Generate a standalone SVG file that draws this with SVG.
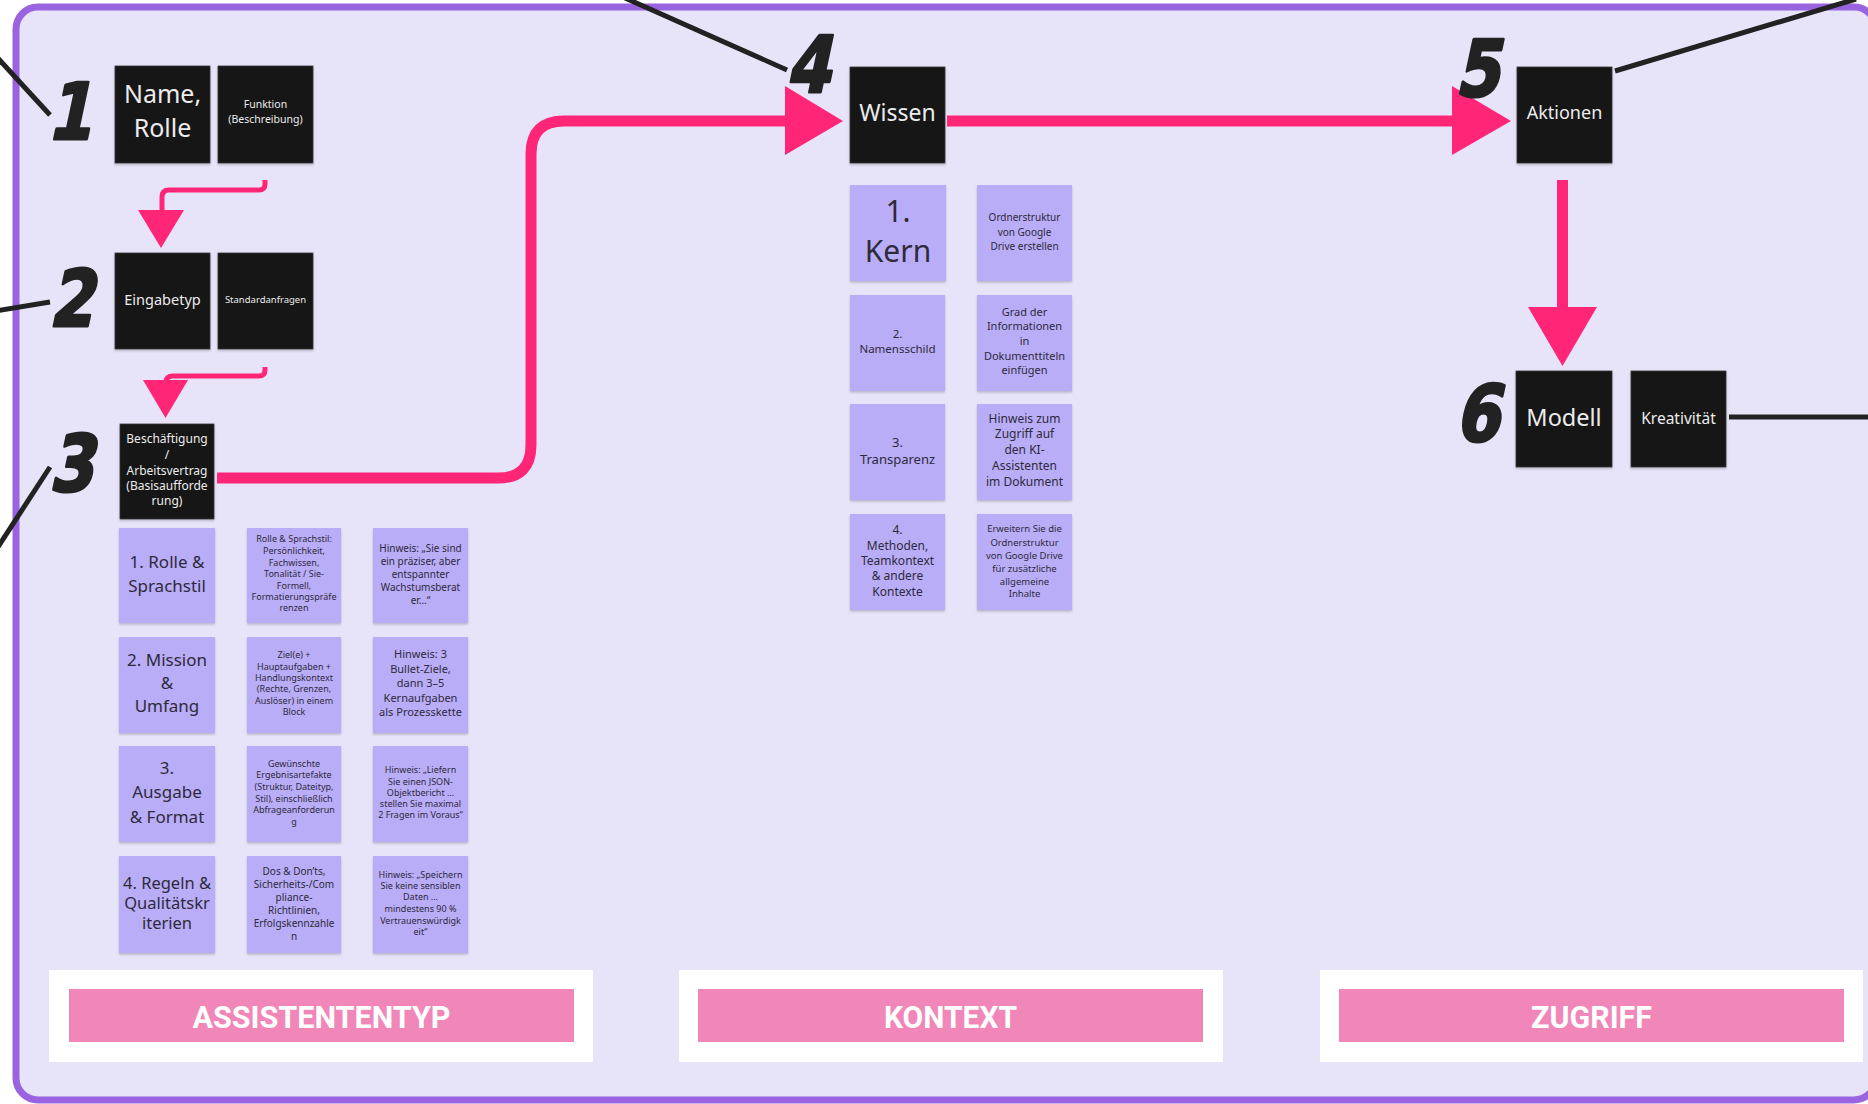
<svg xmlns="http://www.w3.org/2000/svg" width="1868" height="1104" viewBox="0 0 1868 1104">
<defs>
<filter id="sh" x="-10%" y="-10%" width="120%" height="125%">
<feDropShadow dx="0" dy="1.5" stdDeviation="1.2" flood-color="#000" flood-opacity="0.22"/>
</filter>
<style>
.blk{fill:#151515;stroke:#3a3a3a;stroke-width:0.8;filter:url(#sh)}
.crd{fill:#B9ADF8;filter:url(#sh)}
.wt{fill:#ECECEC;font-family:"Noto Sans","Open Sans",sans-serif;text-anchor:middle}
.dt{fill:#2E2A3A;font-family:"Noto Sans","Open Sans",sans-serif;text-anchor:middle}
.num{fill:#222;stroke:#222;stroke-width:3;stroke-linejoin:round;font-family:"DejaVu Sans",sans-serif;font-weight:bold;font-size:78px;text-anchor:middle}
.pk{fill:none;stroke:#FF2678;stroke-linejoin:round}
.ph{fill:#FF2678}
.bl{stroke:#222;stroke-width:5;fill:none}
.sec{fill:#F186B8}
.st{fill:#fff;font-family:Roboto,"Liberation Sans",sans-serif;font-weight:bold;font-size:32px;text-anchor:middle}
</style>
</defs>
<rect x="0" y="0" width="1868" height="1104" fill="#fff"/>
<rect id="frame" x="16" y="7" width="1860" height="1093" rx="22" fill="#E7E4F9" stroke="#9A63E0" stroke-width="7"/>

<g id="connectors">
<path class="pk" stroke-width="5" d="M265,180 V184 Q265,190 259,190 H169 Q162,190 162,197 V212"/>
<polygon class="ph" points="138,210 184,210 161,248"/>
<path class="pk" stroke-width="5" d="M265,367 V370 Q265,376 259,376 H173 Q166,376 166,382"/>
<polygon class="ph" points="143,380 188,380 165.5,418"/>
<path class="pk" stroke-width="11" d="M217,478 H498 Q531,478 531,445 V154 Q531,121 564,121 H790"/>
<polygon class="ph" points="785,86 843,121 785,155"/>
<path class="pk" stroke-width="11" d="M947,121 H1455"/>
<polygon class="ph" points="1452,86 1511,121 1452,155"/>
<path class="pk" stroke-width="11" d="M1562.5,180 V310"/>
<polygon class="ph" points="1528,307 1597,307 1562.5,366"/>
<line class="bl" x1="-5" y1="55" x2="50" y2="115"/>
<line class="bl" x1="-5" y1="311" x2="50" y2="302"/>
<line class="bl" x1="50" y1="467" x2="-4" y2="550"/>
<line class="bl" x1="625" y1="-2" x2="787" y2="70"/>
<line class="bl" x1="1615" y1="71" x2="1856" y2="-1"/>
<line class="bl" x1="1729" y1="417" x2="1870" y2="417"/>
</g>

<g id="numbers">
<text class="num" transform="translate(69,139) skewX(-12) scale(0.82,1)">1</text>
<text class="num" transform="translate(71,326) skewX(-12) scale(0.82,1)">2</text>
<text class="num" transform="translate(71,491) skewX(-12) scale(0.82,1)">3</text>
<text class="num" transform="translate(808,92) skewX(-12) scale(0.82,1)">4</text>
<text class="num" transform="translate(1477,96) skewX(-12) scale(0.82,1)">5</text>
<text class="num" transform="translate(1477,441) skewX(-12) scale(0.82,1)">6</text>
</g>

<g id="n-name"><rect class="blk" x="115" y="66" width="95" height="97"/>
<text class="wt" font-size="25"><tspan x="162.5" y="103">Name,</tspan><tspan x="162.5" y="137">Rolle</tspan></text></g>
<g id="n-funktion"><rect class="blk" x="218" y="66" width="95" height="97"/>
<text class="wt" font-size="10.5"><tspan x="265.5" y="108">Funktion</tspan><tspan x="265.5" y="123">(Beschreibung)</tspan></text></g>
<g id="n-eingabetyp"><rect class="blk" x="115" y="253" width="95" height="96"/>
<text class="wt" font-size="14.5" x="162.5" y="305">Eingabetyp</text></g>
<g id="n-standard"><rect class="blk" x="218" y="253" width="95" height="96"/>
<text class="wt" font-size="9.5" x="265.5" y="303">Standardanfragen</text></g>
<g id="n-beschaeftigung"><rect class="blk" x="120" y="424" width="94" height="95"/>
<text class="wt" font-size="12"><tspan x="167" y="443">Beschäftigung</tspan><tspan x="167" y="459">/</tspan><tspan x="167" y="475">Arbeitsvertrag</tspan><tspan x="167" y="490">(Basisaufforde</tspan><tspan x="167" y="505">rung)</tspan></text></g>

<g id="a1"><rect class="crd" x="119" y="528" width="96" height="95"/>
<text class="dt" font-size="17"><tspan x="167" y="568">1. Rolle &amp;</tspan><tspan x="167" y="592">Sprachstil</tspan></text></g>
<g id="a1b"><rect class="crd" x="247" y="528" width="94" height="95"/>
<text class="dt" font-size="9"><tspan x="294" y="542">Rolle &amp; Sprachstil:</tspan><tspan x="294" y="554">Persönlichkeit,</tspan><tspan x="294" y="566">Fachwissen,</tspan><tspan x="294" y="577">Tonalität / Sie-</tspan><tspan x="294" y="589">Formell,</tspan><tspan x="294" y="600">Formatierungspräfe</tspan><tspan x="294" y="611">renzen</tspan></text></g>
<g id="a1c"><rect class="crd" x="373" y="528" width="95" height="95"/>
<text class="dt" font-size="10"><tspan x="420.5" y="551.5">Hinweis: „Sie sind</tspan><tspan x="420.5" y="564.5">ein präziser, aber</tspan><tspan x="420.5" y="577.5">entspannter</tspan><tspan x="420.5" y="590.5">Wachstumsberat</tspan><tspan x="420.5" y="603.5">er…“</tspan></text></g>

<g id="a2"><rect class="crd" x="119" y="637" width="96" height="96"/>
<text class="dt" font-size="17"><tspan x="167" y="666">2. Mission</tspan><tspan x="167" y="689">&amp;</tspan><tspan x="167" y="712">Umfang</tspan></text></g>
<g id="a2b"><rect class="crd" x="247" y="637" width="94" height="96"/>
<text class="dt" font-size="9"><tspan x="294" y="658">Ziel(e) +</tspan><tspan x="294" y="670">Hauptaufgaben +</tspan><tspan x="294" y="681">Handlungskontext</tspan><tspan x="294" y="692">(Rechte, Grenzen,</tspan><tspan x="294" y="704">Auslöser) in einem</tspan><tspan x="294" y="715">Block</tspan></text></g>
<g id="a2c"><rect class="crd" x="373" y="637" width="95" height="96"/>
<text class="dt" font-size="11"><tspan x="420.5" y="658">Hinweis: 3</tspan><tspan x="420.5" y="673">Bullet-Ziele,</tspan><tspan x="420.5" y="687">dann 3–5</tspan><tspan x="420.5" y="702">Kernaufgaben</tspan><tspan x="420.5" y="716">als Prozesskette</tspan></text></g>

<g id="a3"><rect class="crd" x="119" y="746" width="96" height="96"/>
<text class="dt" font-size="17"><tspan x="167" y="774">3.</tspan><tspan x="167" y="798">Ausgabe</tspan><tspan x="167" y="823">&amp; Format</tspan></text></g>
<g id="a3b"><rect class="crd" x="247" y="746" width="94" height="96"/>
<text class="dt" font-size="9"><tspan x="294" y="767">Gewünschte</tspan><tspan x="294" y="778">Ergebnisartefakte</tspan><tspan x="294" y="790">(Struktur, Dateityp,</tspan><tspan x="294" y="802">Stil), einschließlich</tspan><tspan x="294" y="813">Abfrageanforderun</tspan><tspan x="294" y="825">g</tspan></text></g>
<g id="a3c"><rect class="crd" x="373" y="746" width="95" height="96"/>
<text class="dt" font-size="9"><tspan x="420.5" y="773">Hinweis: „Liefern</tspan><tspan x="420.5" y="785">Sie einen JSON-</tspan><tspan x="420.5" y="796">Objektbericht …</tspan><tspan x="420.5" y="807">stellen Sie maximal</tspan><tspan x="420.5" y="818">2 Fragen im Voraus“</tspan></text></g>

<g id="a4"><rect class="crd" x="119" y="856" width="96" height="97"/>
<text class="dt" font-size="16.5"><tspan x="167" y="889">4. Regeln &amp;</tspan><tspan x="167" y="909">Qualitätskr</tspan><tspan x="167" y="929">iterien</tspan></text></g>
<g id="a4b"><rect class="crd" x="247" y="856" width="94" height="97"/>
<text class="dt" font-size="10"><tspan x="294" y="874.5">Dos &amp; Don’ts,</tspan><tspan x="294" y="887.5">Sicherheits-/Com</tspan><tspan x="294" y="900.5">pliance-</tspan><tspan x="294" y="913.5">Richtlinien,</tspan><tspan x="294" y="926.5">Erfolgskennzahle</tspan><tspan x="294" y="939.5">n</tspan></text></g>
<g id="a4c"><rect class="crd" x="373" y="856" width="95" height="97"/>
<text class="dt" font-size="9"><tspan x="420.5" y="878">Hinweis: „Speichern</tspan><tspan x="420.5" y="889">Sie keine sensiblen</tspan><tspan x="420.5" y="900">Daten …</tspan><tspan x="420.5" y="912">mindestens 90 %</tspan><tspan x="420.5" y="924">Vertrauenswürdigk</tspan><tspan x="420.5" y="935">eit“</tspan></text></g>

<g id="n-wissen"><rect class="blk" x="850" y="67" width="95" height="96"/>
<text class="wt" font-size="23" x="897.5" y="121">Wissen</text></g>
<g id="k1"><rect class="crd" x="850" y="185" width="96" height="96"/>
<text class="dt" font-size="30"><tspan x="898" y="222">1.</tspan><tspan x="898" y="262">Kern</tspan></text></g>
<g id="k1b"><rect class="crd" x="977" y="185" width="95" height="96"/>
<text class="dt" font-size="10"><tspan x="1024.5" y="221">Ordnerstruktur</tspan><tspan x="1024.5" y="235.5">von Google</tspan><tspan x="1024.5" y="250">Drive erstellen</tspan></text></g>
<g id="k2"><rect class="crd" x="850" y="295" width="95" height="96"/>
<text class="dt" font-size="11.5"><tspan x="897.5" y="338">2.</tspan><tspan x="897.5" y="353">Namensschild</tspan></text></g>
<g id="k2b"><rect class="crd" x="977" y="295" width="95" height="96"/>
<text class="dt" font-size="11"><tspan x="1024.5" y="316">Grad der</tspan><tspan x="1024.5" y="330">Informationen</tspan><tspan x="1024.5" y="345">in</tspan><tspan x="1024.5" y="360">Dokumenttiteln</tspan><tspan x="1024.5" y="374">einfügen</tspan></text></g>
<g id="k3"><rect class="crd" x="850" y="404" width="95" height="96"/>
<text class="dt" font-size="13"><tspan x="897.5" y="447">3.</tspan><tspan x="897.5" y="464">Transparenz</tspan></text></g>
<g id="k3b"><rect class="crd" x="977" y="404" width="95" height="96"/>
<text class="dt" font-size="12"><tspan x="1024.5" y="423">Hinweis zum</tspan><tspan x="1024.5" y="438">Zugriff auf</tspan><tspan x="1024.5" y="454">den KI-</tspan><tspan x="1024.5" y="470">Assistenten</tspan><tspan x="1024.5" y="486">im Dokument</tspan></text></g>
<g id="k4"><rect class="crd" x="850" y="514" width="95" height="96"/>
<text class="dt" font-size="12"><tspan x="897.5" y="534">4.</tspan><tspan x="897.5" y="550">Methoden,</tspan><tspan x="897.5" y="565">Teamkontext</tspan><tspan x="897.5" y="580">&amp; andere</tspan><tspan x="897.5" y="596">Kontexte</tspan></text></g>
<g id="k4b"><rect class="crd" x="977" y="514" width="95" height="96"/>
<text class="dt" font-size="9.5"><tspan x="1024.5" y="531.5">Erweitern Sie die</tspan><tspan x="1024.5" y="545.5">Ordnerstruktur</tspan><tspan x="1024.5" y="558.5">von Google Drive</tspan><tspan x="1024.5" y="571.5">für zusätzliche</tspan><tspan x="1024.5" y="584.5">allgemeine</tspan><tspan x="1024.5" y="596.5">Inhalte</tspan></text></g>

<g id="n-aktionen"><rect class="blk" x="1517" y="67" width="95" height="96"/>
<text class="wt" font-size="18" x="1564.5" y="119">Aktionen</text></g>
<g id="n-modell"><rect class="blk" x="1516" y="371" width="96" height="96"/>
<text class="wt" font-size="23.5" x="1564" y="426">Modell</text></g>
<g id="n-kreativitaet"><rect class="blk" x="1631" y="371" width="95" height="96"/>
<text class="wt" font-size="15.5" x="1678.5" y="424">Kreativität</text></g>

<g id="sec-assistententyp"><rect x="49" y="970" width="544" height="92" fill="#fff"/><rect class="sec" x="69" y="989" width="505" height="53"/>
<text class="st" x="321.5" y="1028" textLength="258" lengthAdjust="spacingAndGlyphs">ASSISTENTENTYP</text></g>
<g id="sec-kontext"><rect x="679" y="970" width="544" height="92" fill="#fff"/><rect class="sec" x="698" y="989" width="505" height="53"/>
<text class="st" x="950.5" y="1028" textLength="133" lengthAdjust="spacingAndGlyphs">KONTEXT</text></g>
<g id="sec-zugriff"><rect x="1320" y="970" width="543" height="92" fill="#fff"/><rect class="sec" x="1339" y="989" width="505" height="53"/>
<text class="st" x="1591.5" y="1028" textLength="121" lengthAdjust="spacingAndGlyphs">ZUGRIFF</text></g>
</svg>
